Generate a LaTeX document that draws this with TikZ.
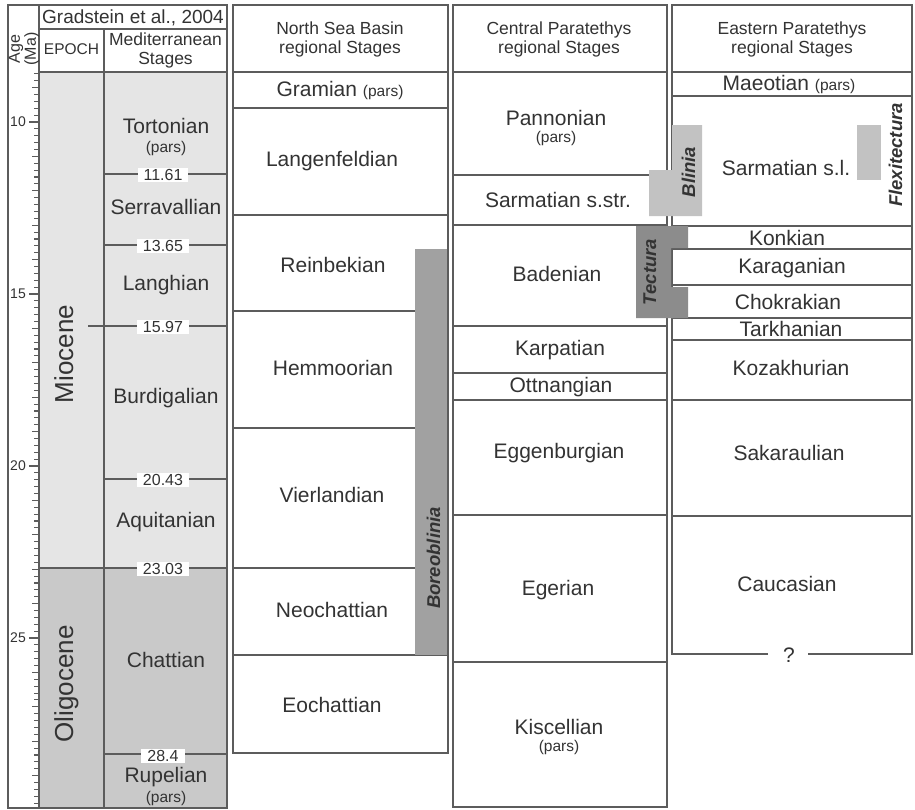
\documentclass[tikz,border=0pt]{standalone}
\usepackage{fontspec}
\setmainfont{Liberation Sans}
\definecolor{linec}{gray}{0.36}
\definecolor{txt}{gray}{0.2}
\definecolor{mio}{gray}{0.9}
\definecolor{oli}{gray}{0.79}
\definecolor{bbar}{gray}{0.63}
\definecolor{tbar}{gray}{0.55}
\definecolor{lbar}{gray}{0.76}
\tikzset{
  frame/.style={draw=linec, line width=1.3pt},
  tick/.style={draw=linec, line width=1.1pt},
  stage/.style={text=txt, inner sep=0pt, font=\fontsize{21}{24}\selectfont},
  small/.style={text=txt, inner sep=0pt, font=\fontsize{15.5}{18}\selectfont},
  head/.style={text=txt, inner sep=0pt, align=center, font=\fontsize{17.5}{19}\selectfont},
  bnd/.style={text=txt, fill=white, inner xsep=6pt, inner ysep=1.5pt, font=\fontsize{16}{18}\selectfont},
  agel/.style={text=txt, inner sep=0pt, anchor=east, font=\fontsize{14}{16}\selectfont},
  epochlab/.style={text=txt, inner sep=0pt, rotate=90, anchor=base, font=\fontsize{26}{28}\selectfont},
  barlab/.style={text=txt, inner sep=0pt, rotate=90, anchor=base, font=\fontsize{18.5}{20}\bfseries\itshape\selectfont}
}
\begin{document}
\begin{tikzpicture}[x=1pt,y=-1pt]
\useasboundingbox (0,0) rectangle (915,809);
\fill[white] (0,0) rectangle (915,809);

% ---------------- Gradstein block ----------------
\fill[mio] (39,72) rectangle (227,568);
\fill[oli] (39,568) rectangle (227,808);
\draw[frame] (39,5) -- (8,5) -- (8,808) -- (39,808);
\draw[frame] (39,5) rectangle (227,808);
\draw[frame] (39,29) -- (227,29);
\draw[frame] (39,72) -- (227,72);
\draw[frame] (104,29) -- (104,808);

% age ticks
\foreach \i in {43,...,149}{
  \pgfmathsetmacro\yy{122+(\i/5-10)*34.4}
  \pgfmathsetmacro\len{ifthenelse(mod(\i,25)==0,10,ifthenelse(mod(\i,5)==0,7,5))}
  \draw[tick] (39-\len,\yy) -- (39,\yy);
}
\node[agel] (a10) at (26,122) {10};
\node[agel] (a15) at (26,294) {15};
\node[agel] (a20) at (26,466) {20};
\node[agel] (a25) at (26,638) {25};
\node[text=txt, inner sep=0pt, rotate=90, align=center, font=\fontsize{16}{12.5}\selectfont] (age) at (24,49) {Age\\(Ma)};

\node[text=txt, inner sep=0pt, font=\fontsize{19}{21}\selectfont] (grad) at (133,17.5) {Gradstein et al., 2004};
\node[text=txt, inner sep=0pt, font=\fontsize{15.5}{18}\selectfont] (epoch) at (71.5,49) {EPOCH};
\node[head] (medh) at (165.5,50) {Mediterranean\\Stages};

% boundaries
\draw[frame] (104,174) -- (227,174);
\draw[frame] (104,245) -- (227,245);
\draw[frame] (88,326) -- (227,326);
\draw[frame] (104,479) -- (227,479);
\draw[frame] (39,568) -- (227,568);
\draw[frame] (104,754) -- (227,754);
\node[bnd] (b1161) at (163,175) {11.61};
\node[bnd] (b1365) at (163,246) {13.65};
\node[bnd] (b1597) at (163,327) {15.97};
\node[bnd] (b2043) at (163,480) {20.43};
\node[bnd] (b2303) at (163,569) {23.03};
\node[bnd] (b284) at (163,756) {28.4};

\node[stage] (tort) at (166,126) {Tortonian};
\node[small] (tortp) at (166,148) {(pars)};
\node[stage] (serr) at (166,207) {Serravallian};
\node[stage] (lang) at (166,285) {Langhian};
\node[stage] (burd) at (166,398) {Burdigalian};
\node[stage] (aqui) at (166,522) {Aquitanian};
\node[stage] (chat) at (166,660) {Chattian};
\node[stage] (rupe) at (166,777) {Rupelian};
\node[small] (rupep) at (166,798) {(pars)};

\node[epochlab] (mio) at (73,354) {Miocene};
\node[epochlab] (oli) at (73,684) {Oligocene};

% ---------------- North Sea ----------------
\draw[frame] (233,72) -- (448,72);
\draw[frame] (233,108) -- (448,108);
\draw[frame] (233,215) -- (448,215);
\draw[frame] (233,311) -- (415,311);
\draw[frame] (233,428) -- (415,428);
\draw[frame] (233,568) -- (415,568);
\draw[frame] (233,655) -- (448,655);
\fill[bbar] (415,249) rectangle (448,655);
\draw[frame] (233,5) rectangle (448,753);
\node[head] (nsh) at (340,39.5) {North Sea Basin\\regional Stages};
\node[stage] (gram) at (340,90) {Gramian {\fontsize{15.5}{18}\selectfont(pars)}};
\node[stage] (lanf) at (332,161) {Langenfeldian};
\node[stage] (rein) at (333,265) {Reinbekian};
\node[stage] (hemm) at (333,368) {Hemmoorian};
\node[stage] (vier) at (332,495) {Vierlandian};
\node[stage] (neoc) at (332,610) {Neochattian};
\node[stage] (eoch) at (332,705) {Eochattian};
\node[barlab] (boreo) at (440,558) {Boreoblinia};

% ---------------- Central Paratethys ----------------
\draw[frame] (453,72) -- (667,72);
\draw[frame] (453,175) -- (649,175);
\draw[frame] (453,225) -- (667,225);
\draw[frame] (453,326) -- (667,326);
\draw[frame] (453,373) -- (667,373);
\draw[frame] (453,400) -- (667,400);
\draw[frame] (453,515) -- (667,515);
\draw[frame] (453,662) -- (667,662);
\draw[frame] (453,5) rectangle (667,807);
\node[head] (cph) at (559,39.5) {Central Paratethys\\regional Stages};
\node[stage] (pann) at (556,118) {Pannonian};
\node[small] (pannp) at (556,138) {(pars)};
\node[stage] (sarm) at (558,200) {Sarmatian s.str.};
\node[stage] (bade) at (557,274) {Badenian};
\node[stage] (karp) at (560,350) {Karpatian};
\node[stage] (ottn) at (561,387) {Ottnangian};
\node[stage] (egge) at (559,453) {Eggenburgian};
\node[stage] (eger) at (558,590) {Egerian};
\node[stage] (kisc) at (559,727) {Kiscellian};
\node[small] (kiscp) at (559,747) {(pars)};

% ---------------- Eastern Paratethys ----------------
\draw[frame] (768,654) -- (672,654) -- (672,5) -- (912,5) -- (912,654) -- (808,654);
\draw[frame] (672,72) -- (912,72);
\draw[frame] (672,96) -- (912,96);
\draw[frame] (672,226) -- (912,226);
\draw[frame] (672,249) -- (912,249);
\draw[frame] (672,285) -- (912,285);
\draw[frame] (672,318) -- (912,318);
\draw[frame] (672,340) -- (912,340);
\draw[frame] (672,400) -- (912,400);
\draw[frame] (672,516) -- (912,516);
\node[head] (eph) at (792,39.5) {Eastern Paratethys\\regional Stages};
\node[stage] (maeo) at (789,84) {Maeotian {\fontsize{15.5}{18}\selectfont(pars)}};
\node[stage] (sarl) at (786,168) {Sarmatian s.l.};
\node[stage] (konk) at (787,238) {Konkian};
\node[stage] (kara) at (792,268) {Karaganian};
\node[stage] (chok) at (788,302) {Chokrakian};
\node[stage] (tark) at (791,329) {Tarkhanian};
\node[stage] (koza) at (791,368) {Kozakhurian};
\node[stage] (saka) at (789,453) {Sakaraulian};
\node[stage] (cauc) at (787,584) {Caucasian};
\node[stage] (qm) at (789,655) {?};

% ---------------- range bars ----------------
\fill[lbar] (649,170) -- (672,170) -- (672,125) -- (702,125) -- (702,216) -- (649,216) -- cycle;
\fill[tbar] (636,226) -- (688,226) -- (688,248) -- (671,248) -- (671,287) -- (688,287) -- (688,318) -- (636,318) -- cycle;
\fill[lbar] (857,125) rectangle (881,180);
\node[barlab] (blin) at (695,172) {Blinia};
\node[barlab] (tect) at (656,272) {Tectura};
\node[barlab] (flex) at (902,155) {Flexitectura};
\end{tikzpicture}
\end{document}
